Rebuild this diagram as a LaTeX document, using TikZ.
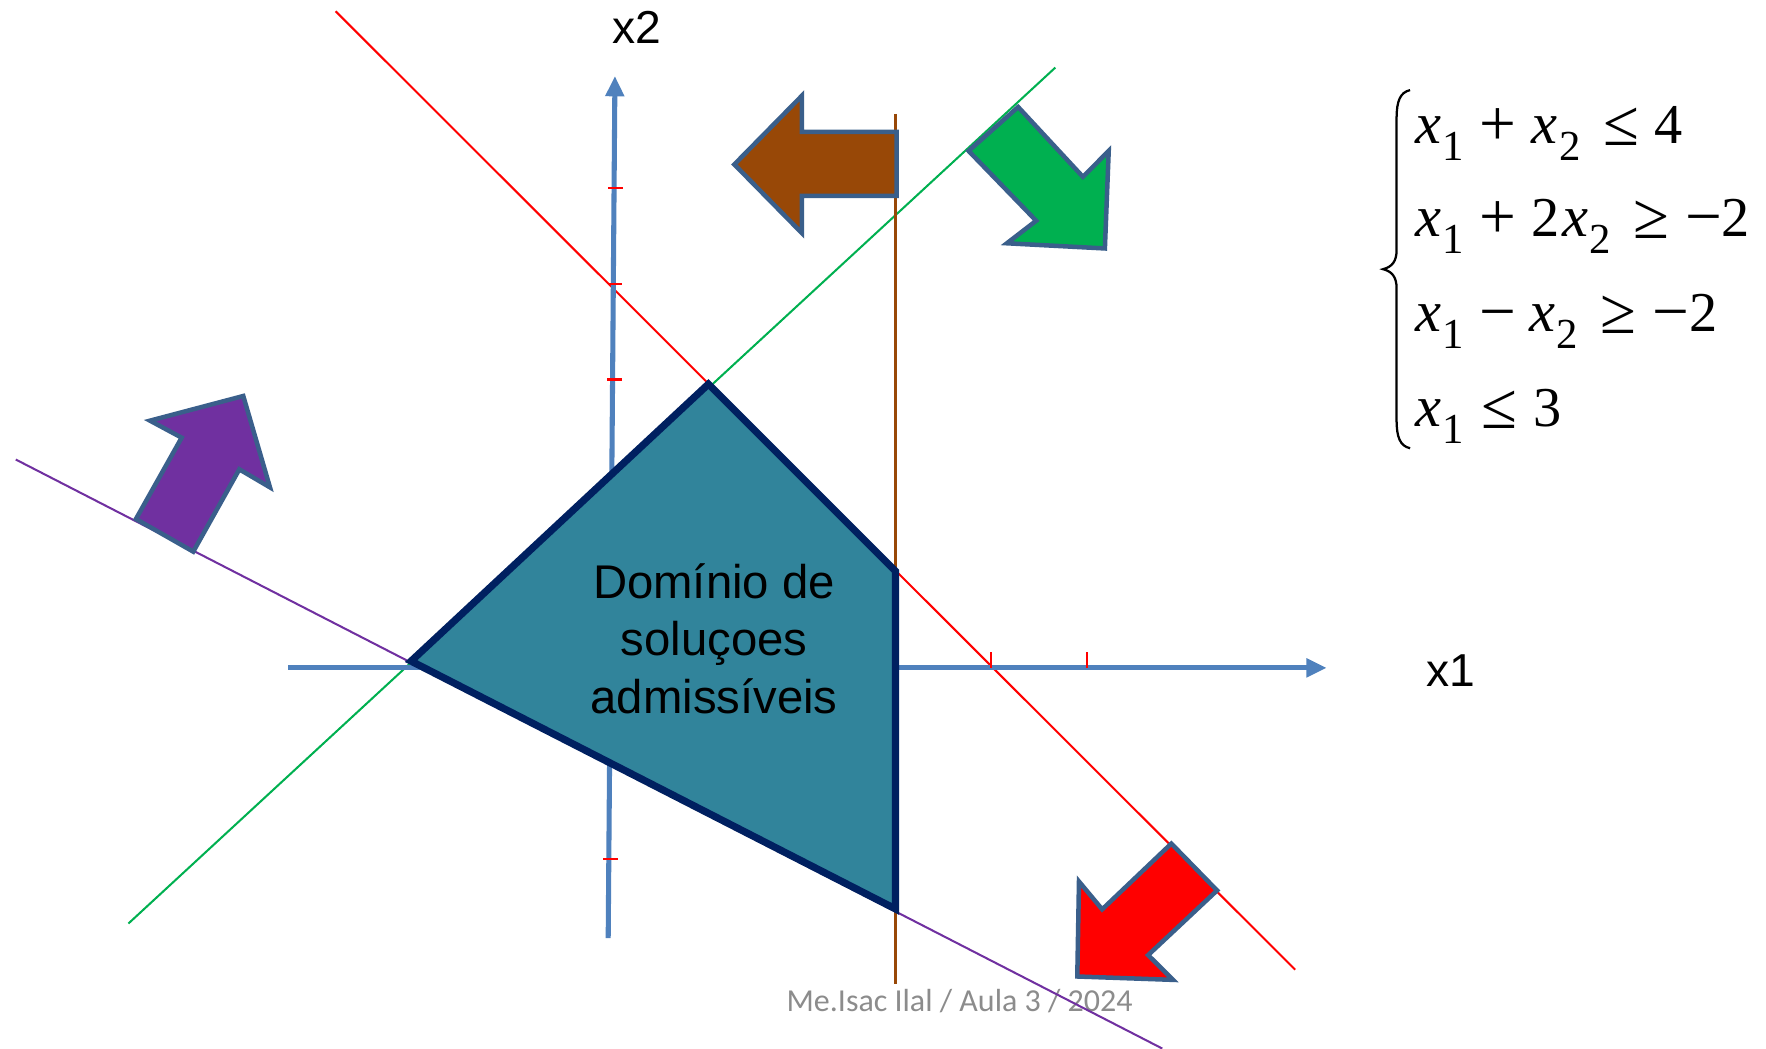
\documentclass[tikz,border=0pt]{standalone}
\usepackage{fontspec}
\usepackage{graphicx}
\setmainfont{Liberation Sans}
\newfontfamily\eqfont{Liberation Serif}
\newfontfamily\footfont{Carlito}
\usetikzlibrary{arrows.meta}
\definecolor{axisblue}{HTML}{4F81BD}
\definecolor{lred}{HTML}{FF0000}
\definecolor{lgreen}{HTML}{00B050}
\definecolor{lpurple}{HTML}{7030A0}
\definecolor{lbrown}{HTML}{984807}
\definecolor{arrowedge}{HTML}{3A5F8B}
\definecolor{regionfill}{HTML}{31849B}
\definecolor{regionedge}{HTML}{002060}
\definecolor{footgray}{HTML}{8C8C8C}
\newcommand{\vx}[1]{{\fontsize{26}{26}\selectfont\itshape x}\kern0.5pt\raisebox{-7.5pt}{\fontsize{19}{19}\selectfont #1}}
\newcommand{\eqop}[1]{\raisebox{-1pt}{\fontsize{29}{29}\selectfont #1}}
\begin{document}
\begin{tikzpicture}[x=0.5pt,y=-0.5pt,
  lbl/.style={inner sep=0pt, anchor=base west, font=\fontsize{20.5}{24}\selectfont},
  regiontext/.style={inner sep=0pt, anchor=base, font=\fontsize{21}{25.5}\selectfont},
  eqline/.style={inner sep=0pt, anchor=base west, font=\eqfont\fontsize{25}{30}\selectfont},
  blockarrow/.style={draw=arrowedge, line width=2pt, line join=miter},
  axisline/.style={draw=axisblue, line width=2.25pt, -{Triangle[width=8pt,length=9pt]}},
  tickmark/.style={draw=lred, line width=1pt},
  constraint/.style={line width=0.9pt}]
\path[use as bounding box] (0,0) rectangle (1568,931);

% footer
\node[inner sep=0pt, anchor=base, font=\footfont\fontsize{14.2}{17}\selectfont, text=footgray] (footer) at (852,898) {Me.Isac Ilal / Aula 3 / 2024};

% constraint lines
\coordinate (r1) at (298,10);  \coordinate (r2) at (1150,861);
\coordinate (g1) at (114,820); \coordinate (g2) at (937,60);
\coordinate (p1) at (14,408);  \coordinate (p2) at (1032,931);
\coordinate (b1) at (795,101); \coordinate (b2) at (795,874);
\draw[constraint, lred] (r1) -- (r2);
\draw[constraint, lgreen] (g1) -- (g2);
\draw[constraint, lpurple] (p1) -- (p2);
\draw[constraint, lbrown, line width=1pt] (b1) -- (b2);

% axes
\coordinate (xa0) at (256,593); \coordinate (xa1) at (1178,593);
\coordinate (ya0) at (540,833); \coordinate (ya1) at (546,67.5);
\draw[axisline] (xa0) -- (xa1);
\draw[axisline] (ya0) -- (ya1);
\foreach \yy/\xx in {167/545.2, 252/544.6, 337/544.0, 763/540.7}
  \draw[tickmark] (\xx-5,\yy) -- (\xx+8,\yy);
\foreach \xx in {880,965}
  \draw[tickmark] (\xx,579) -- (\xx,593);

% feasible region
\coordinate (A) at (365,587);
\coordinate (B) at (629,341);
\coordinate (C) at (795,507);
\coordinate (D) at (795,807);
\draw[fill=regionfill, draw=regionedge, line width=3.2pt, line join=miter] (A) -- (B) -- (C) -- (D) -- cycle;
\node[regiontext] (t1) at (634,531) {Domínio de};
\node[regiontext] (t2) at (634,582.4) {soluçoes};
\node[regiontext] (t3) at (634,633.3) {admissíveis};

% direction arrows
\draw[blockarrow, fill=lbrown] (652,146) -- (712,85) -- (712,117) -- (796,117) -- (796,174) -- (712,174) -- (712,207) -- cycle;
\draw[blockarrow, fill=lgreen] (860,134) -- (904,95) -- (961.5,157) -- (984.4,134) -- (981,220.6) -- (894,216) -- (920,196) -- cycle;
\draw[blockarrow, fill=lred] (1040,749) -- (1080.6,790.6) -- (1019.4,848) -- (1041.5,870) -- (956.5,867) -- (958,782.7) -- (978.6,807.4) -- cycle;
\draw[blockarrow, fill=lpurple] (216,351.6) -- (239.7,432.7) -- (212.5,416.7) -- (171.6,489.8) -- (120.7,460.8) -- (161.3,388.6) -- (133.2,373.5) -- cycle;

% axis labels
\node[lbl] (lx2) at (543,38.5) {x2};
\node[lbl] (lx1) at (1266,609.7) {x1};

% system of inequalities
\draw[line width=1pt] (1252,80) .. controls (1243,82) and (1240,90) .. (1240,105) -- (1240,222)
  .. controls (1240,232) and (1236,237) .. (1228,239)
  .. controls (1236,241) and (1240,246) .. (1240,256) -- (1240,373)
  .. controls (1240,388) and (1243,396) .. (1252,398);
\node[eqline] (e1) at (1256,127.3) {\vx{1}\hspace{7pt}\eqop{+}\hspace{7pt}\vx{2}\hspace{10pt}\eqop{≤}\hspace{7pt}4};
\node[eqline] (e2) at (1256,210) {\vx{1}\hspace{7pt}\eqop{+}\hspace{7pt}2\kern1pt\vx{2}\hspace{10pt}\eqop{≥}\hspace{7pt}\eqop{−}2};
\node[eqline] (e3) at (1256,294.5) {\vx{1}\hspace{7pt}\eqop{−}\hspace{6pt}\vx{2}\hspace{10pt}\eqop{≥}\hspace{7pt}\eqop{−}2};
\node[eqline] (e4) at (1256,378.8) {\vx{1}\hspace{8pt}\eqop{≤}\hspace{7pt}3};
\end{tikzpicture}
\end{document}
